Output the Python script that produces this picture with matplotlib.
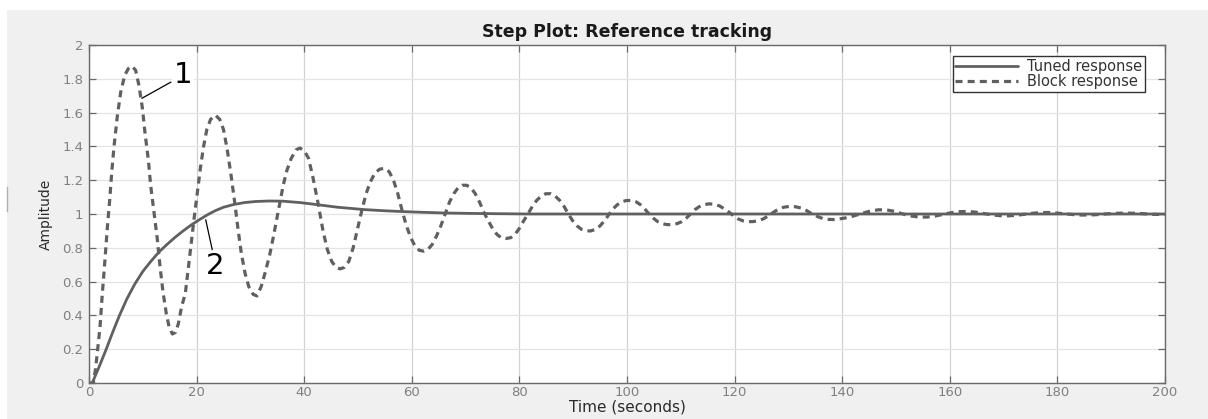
import matplotlib
matplotlib.use("Agg")
import matplotlib.pyplot as plt
from matplotlib.patches import Rectangle
from matplotlib.lines import Line2D
from matplotlib.ticker import FuncFormatter

#---------------------------- datos ----------------------------#
tuned_t = [0, 0.6, 2.0, 3.2, 4.4, 5.6, 7.0, 8.5, 10.0, 11.5, 13.0, 14.5, 16.0, 17.5,
           19.0, 20.5, 22.0, 23.5, 25.0, 27.0, 29.0, 31.0, 33.5, 36.0, 39.4, 42.5,
           46.2, 51.2, 55.0, 58.6, 62.0, 66.1, 72.0, 81.7, 100, 200]
tuned_y = [0, 0, 0.105, 0.2, 0.3, 0.395, 0.495, 0.585, 0.66, 0.72, 0.775, 0.82, 0.862, 0.9,
           0.935, 0.966, 0.995, 1.02, 1.04, 1.057, 1.068, 1.074, 1.077, 1.076, 1.067, 1.055,
           1.04, 1.026, 1.019, 1.014, 1.01, 1.006, 1.003, 1.0, 1.0, 1.0]

block_t = [0, 0.8, 1.2, 1.55, 2.04, 2.48, 2.97, 3.41, 3.84, 4.21, 4.65, 5.27, 5.89,
           6.63, 7.3, 8.0, 8.67, 9.29, 9.91, 10.41, 11.03, 11.46, 12.08, 12.7, 13.2,
           13.75, 14.37, 14.9, 15.5, 16.1, 16.6, 17.2, 17.9, 18.5, 19.0, 19.5, 20.1,
           20.7, 21.3, 21.9, 22.6, 23.5, 24.3, 25.0, 25.7, 26.4, 27.1, 27.7, 28.3,
           29.0, 29.7, 30.5, 31.2, 32.0, 32.8, 33.6, 34.3, 34.9, 35.5, 36.1, 36.8,
           37.6, 38.5, 39.2, 40.0, 40.8, 41.6, 42.6, 43.5, 44.3, 45.1, 45.9, 46.7,
           47.5, 48.3, 49.1, 49.9, 50.7, 51.5, 52.3, 53.1, 54.0, 54.9, 55.8, 56.6,
           57.4, 58.2, 59.0, 59.8, 60.6, 61.4, 62.2, 63.0, 63.8, 64.6, 65.4, 66.2,
           67.0, 67.8, 68.6, 69.4, 70.2, 71.0, 71.8, 72.6, 73.4, 74.2, 75.0, 75.8,
           76.6, 77.5, 78.4, 79.2, 80.0, 80.8, 81.6, 82.4, 83.2, 84.0, 84.9, 85.8,
           86.7, 87.5, 88.3, 89.1, 89.9, 90.7, 91.5, 92.4, 93.3, 94.2, 95.0, 95.8,
           96.6, 97.4, 98.2, 99.0, 99.9, 100.8, 101.7, 102.5, 103.3, 104.1, 104.9,
           105.7, 106.6, 107.5, 108.4, 109.3, 110.2, 111.0, 111.8, 112.6, 113.4,
           114.3, 115.2, 116.2, 117.2, 118.1, 119.0, 119.8, 120.6, 121.5, 122.4,
           123.4, 124.4, 125.4, 126.3, 127.2, 128.1, 129.1, 130.2, 131.3, 132.4,
           133.4, 134.4, 135.4, 136.4, 137.5, 138.6, 139.7, 140.8, 142.3, 143.8,
           145.3, 146.8, 148.3, 149.8, 151.3, 152.8, 154.3, 155.8, 157.3, 158.8,
           160.3, 161.8, 163.3, 164.8, 166.3, 167.8, 169.3, 170.8, 172.3, 173.8,
           175.3, 176.8, 178.3, 179.8, 181.3, 182.8, 184.3, 185.8, 187.3, 188.8,
           190.3, 191.8, 193.3, 194.8, 196.3, 197.8, 200.0]
block_y = [0, 0, 0.08, 0.18, 0.33, 0.53, 0.73, 0.92, 1.08, 1.24, 1.40, 1.58, 1.72,
           1.82, 1.86, 1.875, 1.85, 1.76, 1.63, 1.48, 1.32, 1.17, 1.01, 0.85, 0.69,
           0.54, 0.41, 0.33, 0.29, 0.30, 0.35, 0.45, 0.53, 0.69, 0.83, 0.965, 1.12,
           1.27, 1.40, 1.50, 1.56, 1.585, 1.56, 1.50, 1.38, 1.23, 1.065, 0.91, 0.77,
           0.65, 0.57, 0.525, 0.515, 0.57, 0.66, 0.76, 0.87, 0.97, 1.073, 1.17, 1.26,
           1.33, 1.38, 1.39, 1.375, 1.33, 1.22, 1.06, 0.90, 0.79, 0.72, 0.685, 0.675,
           0.685, 0.72, 0.80, 0.91, 1.02, 1.12, 1.19, 1.24, 1.265, 1.27, 1.25, 1.20,
           1.12, 1.02, 0.93, 0.86, 0.81, 0.785, 0.78, 0.79, 0.82, 0.87, 0.93, 1.0,
           1.07, 1.12, 1.155, 1.17, 1.17, 1.155, 1.12, 1.07, 1.01, 0.96, 0.915, 0.88,
           0.86, 0.855, 0.86, 0.88, 0.915, 0.96, 1.0, 1.045, 1.08, 1.105, 1.12, 1.12,
           1.105, 1.08, 1.045, 1.0, 0.96, 0.93, 0.91, 0.90, 0.90, 0.91, 0.93, 0.96,
           0.995, 1.03, 1.055, 1.072, 1.08, 1.08, 1.072, 1.055, 1.03, 1.0, 0.975,
           0.955, 0.942, 0.937, 0.937, 0.943, 0.955, 0.975, 1.0, 1.025, 1.043,
           1.055, 1.06, 1.058, 1.048, 1.03, 1.01, 0.99, 0.972, 0.96, 0.955,
           0.955, 0.96, 0.972, 0.99, 1.01, 1.028, 1.04, 1.045, 1.043, 1.035,
           1.02, 1.0, 0.985, 0.973, 0.968, 0.967, 0.972, 0.978, 0.99, 1.005,
           1.018, 1.025, 1.024, 1.015, 1.0, 0.988, 0.982, 0.982, 0.988, 0.998,
           1.008, 1.014, 1.015, 1.011, 1.003, 0.995, 0.99, 0.989, 0.992, 0.998,
           1.004, 1.008, 1.009, 1.006, 1.001, 0.997, 0.994, 0.994, 0.996, 1.0,
           1.003, 1.005, 1.005, 1.004, 1.001, 0.998, 0.997]

x_ticks = list(range(0, 201, 20))
y_ticks = [0, 0.2, 0.4, 0.6, 0.8, 1, 1.2, 1.4, 1.6, 1.8, 2]

TITULO = "Step Plot: Reference tracking"
ETIQUETA_X = "Time (seconds)"
ETIQUETA_Y = "Amplitude"
LEYENDA = ["Tuned response", "Block response"]
#-----------------------------------------------------------------------------------#

fig = plt.figure(figsize=(12.08, 4.19), dpi=100, facecolor="white")
fig.patches.append(Rectangle((7 / 1208, 0), 1, 409 / 419, transform=fig.transFigure,
                             facecolor="#f0f0f0", edgecolor="none", zorder=-10))
fig.add_artist(Line2D([7.5 / 1208, 7.5 / 1208], [1 - 187 / 419, 1 - 211 / 419],
                      transform=fig.transFigure, color="#b0b0b0", lw=1))

ax = fig.add_axes([89 / 1208, 1 - 383 / 419, 1076 / 1208, 338 / 419])
ax.set_facecolor("white")

l1, = ax.plot(tuned_t, tuned_y, color="#606060", lw=2.0, solid_capstyle="round",
              solid_joinstyle="round")
l2, = ax.plot(block_t, block_y, color="#606060", lw=2.3, linestyle=(0, (2.2, 1.6)))

ax.set_xlim(0, 200)
ax.set_ylim(0, 2)
ax.set_xticks(x_ticks)
ax.set_yticks(y_ticks)
ax.yaxis.set_major_formatter(FuncFormatter(lambda v, p: "%g" % v))

ax.xaxis.grid(True, color="#d2d2d2", lw=0.9)
ax.yaxis.grid(True, color="#e4e4e4", lw=0.9)
ax.set_axisbelow(True)

for s in ax.spines.values():
    s.set_color("#6a6a6a")
    s.set_linewidth(1.0)
ax.tick_params(direction="in", length=5, width=0.9, color="#6a6a6a",
               top=True, right=True, labelsize=9.5, labelcolor="#808080", pad=4)
ax.tick_params(axis="x", pad=2.5)

ax.set_title(TITULO, fontsize=12.5, fontweight="bold", color="#1a1a1a", pad=6)
ax.set_xlabel(ETIQUETA_X, fontsize=11, color="#2a2a2a", labelpad=0)
ax.set_ylabel(ETIQUETA_Y, fontsize=10, color="#2a2a2a", labelpad=7)

leg = ax.legend([l1, l2], LEYENDA, loc="upper right", bbox_to_anchor=(0.9814, 0.9675),
                fontsize=10.5, fancybox=False, framealpha=1, edgecolor="#333333",
                handlelength=4.3, handletextpad=0.6, labelspacing=0.02, borderpad=0.2,
                borderaxespad=0)
leg.get_frame().set_linewidth(1.0)
for t in leg.get_texts():
    t.set_color("#333333")

# etiquetas 1 y 2
ax.plot([15.2, 9.85], [1.78, 1.685], color="black", lw=0.9)
ax.text(17.5, 1.82, "1", fontsize=21, ha="center", va="center", color="black",
        bbox=dict(facecolor="white", edgecolor="none", pad=1))
ax.plot([21.7, 22.9], [0.965, 0.79], color="black", lw=0.9)
ax.text(23.4, 0.69, "2", fontsize=21, ha="center", va="center", color="black",
        bbox=dict(facecolor="white", edgecolor="none", pad=1))

plt.savefig("out.png", dpi=100, facecolor=fig.get_facecolor())
